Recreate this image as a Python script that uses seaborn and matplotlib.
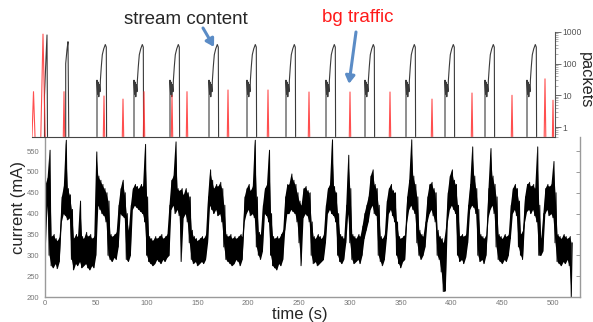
import numpy as np
import pandas as pd
import matplotlib
matplotlib.use("Agg")
import matplotlib.pyplot as plt
from matplotlib.ticker import LogLocator, NullFormatter
import seaborn as sns

# ---- bottom panel: current trace, read every 2 s as low / high edge of the noisy band
current_t = list(range(0, 520, 2))
current_lo = [
    300, 420, 300, 275, 270, 280, 268, 285, 380, 400,
    395, 385, 390, 290, 265, 280, 275, 285, 270, 275,
    280, 270, 265, 275, 270, 300, 420, 410, 400, 395,
    380, 300, 290, 285, 295, 290, 320, 400, 395, 390,
    290, 285, 300, 410, 420, 415, 410, 405, 400, 380,
    300, 285, 280, 275, 280, 290, 285, 280, 290, 285,
    295, 300, 410, 420, 400, 410, 395, 285, 390, 400,
    380, 330, 290, 280, 285, 275, 280, 285, 280, 290,
    330, 420, 410, 400, 410, 395, 400, 380, 320, 290,
    285, 280, 275, 280, 290, 285, 275, 290, 380, 400,
    410, 395, 400, 390, 320, 300, 290, 310, 400, 395,
    380, 300, 275, 270, 265, 280, 275, 290, 360, 400,
    400, 410, 405, 400, 380, 330, 275, 390, 400, 395,
    380, 300, 280, 285, 275, 280, 285, 290, 330, 400,
    410, 400, 395, 380, 300, 285, 280, 290, 330, 400,
    330, 290, 280, 285, 290, 280, 300, 340, 360, 380,
    410, 420, 400, 395, 300, 285, 275, 290, 340, 400,
    410, 395, 380, 300, 280, 270, 285, 290, 380, 410,
    420, 410, 400, 330, 300, 290, 300, 320, 380, 400,
    410, 395, 380, 300, 290, 260, 213, 215, 380, 410,
    420, 410, 400, 300, 285, 290, 280, 295, 330, 410,
    420, 415, 400, 300, 285, 290, 280, 300, 390, 410,
    420, 400, 320, 290, 285, 280, 290, 285, 300, 340,
    400, 410, 395, 320, 300, 290, 380, 405, 410, 400,
    410, 395, 380, 300, 300, 310, 400, 410, 395, 400,
    390, 330, 285, 280, 275, 285, 280, 290, 275, 200,
]
current_hi = [
    470, 485, 552, 345, 350, 340, 335, 345, 440, 465,
    576, 460, 445, 410, 340, 350, 345, 430, 345, 340,
    355, 345, 350, 340, 345, 548, 490, 480, 470, 460,
    450, 430, 350, 345, 350, 355, 420, 460, 480, 450,
    400, 360, 420, 460, 470, 465, 460, 470, 465, 566,
    440, 345, 340, 335, 345, 340, 345, 350, 340, 345,
    350, 420, 480, 490, 572, 460, 455, 460, 445, 460,
    450, 440, 360, 345, 340, 335, 340, 345, 340, 350,
    440, 505, 480, 460, 470, 465, 475, 460, 420, 350,
    345, 350, 340, 345, 340, 345, 350, 345, 440, 460,
    470, 455, 465, 576, 440, 355, 350, 420, 460, 470,
    552, 400, 345, 340, 345, 340, 350, 360, 440, 470,
    470, 495, 480, 470, 450, 430, 420, 460, 465, 455,
    450, 380, 345, 340, 350, 345, 340, 350, 420, 460,
    470, 577, 465, 450, 400, 350, 345, 340, 420, 540,
    460, 350, 345, 340, 350, 345, 370, 400, 420, 440,
    490, 505, 470, 460, 420, 345, 340, 350, 430, 460,
    470, 455, 450, 380, 345, 340, 345, 350, 440, 480,
    577, 490, 470, 440, 360, 350, 345, 380, 440, 470,
    475, 460, 450, 360, 345, 340, 330, 360, 450, 490,
    505, 480, 470, 420, 345, 350, 345, 350, 420, 470,
    560, 490, 460, 410, 350, 345, 340, 350, 460, 556,
    490, 470, 440, 350, 345, 340, 350, 345, 350, 420,
    460, 470, 460, 430, 350, 360, 440, 470, 475, 465,
    470, 460, 560, 420, 340, 400, 460, 470, 465, 470,
    525, 450, 350, 345, 340, 350, 345, 340, 345, 330,
]
current_yticks = [200, 250, 300, 350, 400, 450, 500, 550]
time_ticks = [0, 50, 100, 150, 200, 250, 300, 350, 400, 450, 500]

# ---- top panel: packets (log), stream bursts and background spikes
burst_start = [65, 102, 138, 177, 215, 254, 294, 333, 374, 413, 453, 495]
burst_dt = [0, 0, 0.6, 1.2, 1.8, 2.4, 3.0, 3.4, 4.3, 5.3, 6.7, 8.3, 9.3, 9.6]
burst_pk = [0.5, 30, 11, 26, 9, 22, 13, 30, 80, 190, 290, 400, 330, 0.5]
# two narrow early bursts
spike1_t = [12.5, 12.5, 14, 15, 15.5]
spike1_pk = [0.5, 10, 150, 800, 0.5]
spike2_t = [33.7, 33.7, 35, 36, 36.8]
spike2_pk = [0.5, 100, 280, 490, 0.5]

bg_t = [1.5, 11, 32, 72, 91, 112, 140, 155, 196, 236, 277, 318, 358, 400, 440, 480, 513, 521]
bg_pk = [13, 850, 13, 9.5, 7.6, 13, 10, 13, 14.7, 14.7, 12.7, 12.7, 12.7, 7.6, 11.8, 10, 33, 7]
bg_halfw = [1.5, 2.2, 0.7, 0.7, 0.7, 0.7, 0.7, 0.7, 0.7, 0.7, 0.7, 0.7, 0.7, 0.7, 0.7, 0.7, 0.8, 0.6]
base = 0.5

sns.set_style("white")
plt.rcParams["font.family"] = ["Liberation Sans", "DejaVu Sans"]

fig = plt.figure(figsize=(5.93, 3.22), dpi=100)
W, H = 593, 322

# bottom axes
ax = fig.add_axes([45 / W, 25 / H, 535 / W, 160 / H])
ax.set_facecolor("none")
ax.fill_between(current_t, current_lo, current_hi, color="black", lw=0)
tt = np.column_stack([current_t, np.array(current_t) + 1]).ravel()
vv = np.column_stack([current_lo, current_hi]).ravel()
cur = pd.DataFrame({"time": tt, "current": vv})
sns.lineplot(data=cur, x="time", y="current", sort=False, estimator=None,
             color="black", lw=0.7, ax=ax)
ax.set_xlim(0, 526.6)
ax.set_ylim(200, 583.7)
ax.set_xticks(time_ticks)
ax.set_yticks(current_yticks)
ax.set_xlabel("")
ax.set_ylabel("")
ax.spines["top"].set_visible(False)
for s in ["left", "bottom", "right"]:
    ax.spines[s].set_color("#9a9a9a")
    ax.spines[s].set_linewidth(1.0)
ax.tick_params(axis="y", direction="out", length=3, width=0.7, color="#9a9a9a",
               labelsize=5.5, labelcolor="#777777", pad=1)
ax.tick_params(axis="x", direction="out", length=2, width=0.7, color="#9a9a9a",
               labelsize=5.5, labelcolor="#777777", pad=0.5)
ax.tick_params(axis="y", right=True, labelright=False)
for t in ax.yaxis.get_major_ticks():
    t.tick2line.set_marker(matplotlib.lines.TICKLEFT)
    t.tick2line.set_markersize(3)

# top axes
axt = fig.add_axes([32 / W, 185 / H, 523 / W, 109 / H])
axt.set_facecolor("none")
rows = []
for i, s in enumerate(burst_start):
    for d, p in zip(burst_dt, burst_pk):
        rows.append((s + d, p, i))
for t, p in zip(spike1_t, spike1_pk):
    rows.append((t, p, 100))
for t, p in zip(spike2_t, spike2_pk):
    rows.append((t, p, 101))
stream = pd.DataFrame(rows, columns=["t", "packets", "burst"])
sns.lineplot(data=stream, x="t", y="packets", units="burst", estimator=None, sort=False,
             color="#3a3a3a", lw=0.8, ax=axt)

rows = []
for i, (t, p, w) in enumerate(zip(bg_t, bg_pk, bg_halfw)):
    rows += [(t - w, base, i), (t, p, i), (t + w, base, i)]
bg = pd.DataFrame(rows, columns=["t", "packets", "spike"])
sns.lineplot(data=bg, x="t", y="packets", units="spike", estimator=None, sort=False,
             color="#ff3030", lw=0.8, alpha=0.85, ax=axt)

axt.set_yscale("log")
axt.set_xlim(0, 523)
axt.set_ylim(0.484, 1327)
axt.set_xticks([])
axt.set_xlabel("")
axt.set_ylabel("")
for s in ["left", "top"]:
    axt.spines[s].set_visible(False)
axt.spines["bottom"].set_color("#444444")
axt.spines["bottom"].set_linewidth(0.8)
axt.spines["right"].set_color("#555555")
axt.spines["right"].set_linewidth(0.8)
axt.spines["right"].set_bounds(0.484, 1000)
axt.yaxis.tick_right()
axt.set_yticks([1, 10, 100, 1000], labels=["1", "10", "100", "1000"])
axt.yaxis.set_minor_locator(LogLocator(base=10, subs=np.arange(2, 10)))
axt.yaxis.set_minor_formatter(NullFormatter())
axt.tick_params(axis="y", which="major", direction="out", length=4, width=0.6,
                color="#555555", labelsize=6.2, labelcolor="#555555", pad=1.5)
axt.tick_params(axis="y", which="minor", direction="out", length=2, width=0.4,
                color="#777777")

# labels
fig.text(300 / W, 1 - 315 / H, "time (s)", ha="center", va="center", fontsize=12)
fig.text(19 / W, 1 - 208 / H, "current (mA)", ha="center", va="center",
         fontsize=12, rotation=90)
fig.text(585 / W, 1 - 80 / H, "packets", ha="center", va="center",
         fontsize=11.7, rotation=-90)
fig.text(186 / W, 1 - 19 / H, "stream content", ha="center", va="center", fontsize=13.5)
fig.text(358 / W, 1 - 17 / H, "bg traffic", ha="center", va="center",
         fontsize=13.5, color="#ff1a1a")

arrow = dict(arrowstyle="-|>,head_length=0.5,head_width=0.3", lw=2.2,
             color="#5b8cc6", shrinkA=0, shrinkB=0, mutation_scale=9)
axt.annotate("", xy=(214 - 32, 335), xycoords="data",
             xytext=(203, H - 28), textcoords="figure pixels", arrowprops=arrow)
axt.annotate("", xy=(349 - 32, 23), xycoords="data",
             xytext=(356, H - 32), textcoords="figure pixels", arrowprops=arrow)

fig.savefig("out.png", dpi=100)
